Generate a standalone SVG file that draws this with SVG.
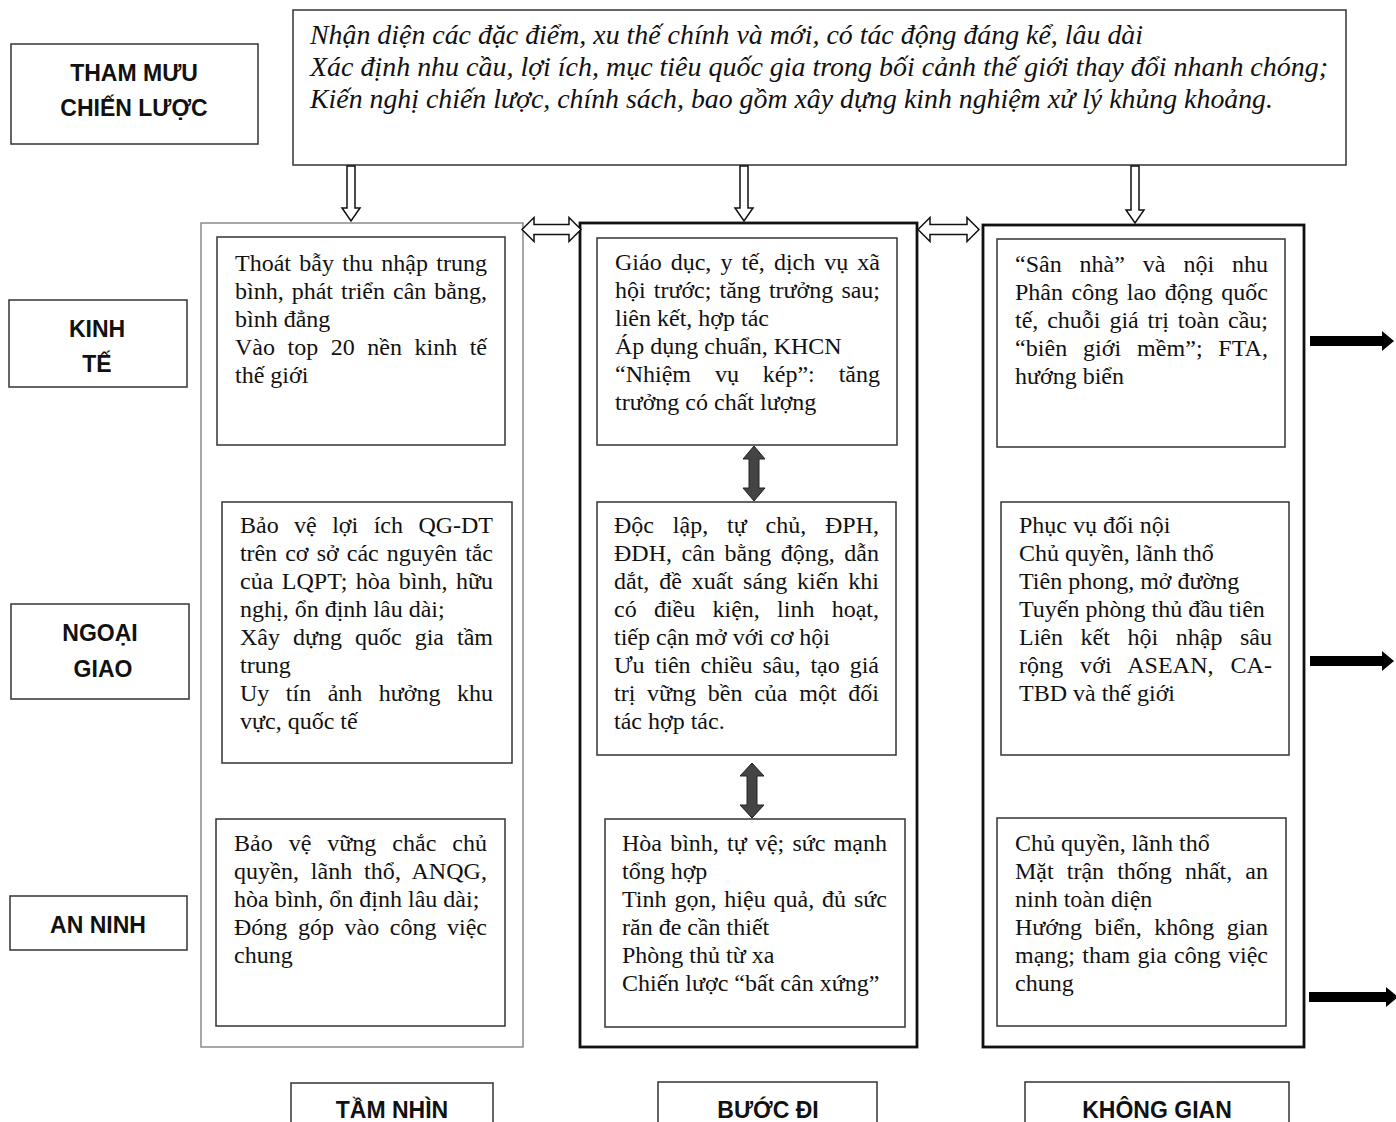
<svg xmlns="http://www.w3.org/2000/svg" width="1396" height="1122" viewBox="0 0 1396 1122">
<style>
.bg{fill:#fff}
.box{fill:#fff;stroke:#333;stroke-width:1.5}
.lbox{fill:#fff;stroke:#333;stroke-width:1.5}
.col1{fill:none;stroke:#8a8a8a;stroke-width:1.5}
.colb{fill:none;stroke:#111;stroke-width:2.8}
.t{font-family:"Liberation Serif","Times New Roman",serif;font-size:24px;fill:#111}
.ti{font-family:"Liberation Serif","Times New Roman",serif;font-size:28px;font-style:italic;fill:#111}
.lb{font-family:"Liberation Sans",Arial,sans-serif;font-size:23px;font-weight:bold;text-anchor:middle;fill:#111}
.hol{fill:#fff;stroke:#111;stroke-width:1.5;stroke-linejoin:miter}
.dk{fill:#444;stroke:#222;stroke-width:1}
.blk{fill:#000}
</style>
<rect class="bg" x="0" y="0" width="1396" height="1122"/>

<g id="top-box">
<rect class="box" x="293" y="10" width="1053" height="155"/>
<text class="ti" x="310" y="44" textLength="833" lengthAdjust="spacingAndGlyphs">Nhận diện các đặc điểm, xu thế chính và mới, có tác động đáng kể, lâu dài</text>
<text class="ti" x="310" y="76" textLength="1018" lengthAdjust="spacingAndGlyphs">Xác định nhu cầu, lợi ích, mục tiêu quốc gia trong bối cảnh thế giới thay đổi nhanh chóng;</text>
<text class="ti" x="310" y="108" textLength="963" lengthAdjust="spacingAndGlyphs">Kiến nghị chiến lược, chính sách, bao gồm xây dựng kinh nghiệm xử lý khủng khoảng.</text>
</g>

<g id="label-tham-muu">
<rect class="lbox" x="11" y="44" width="247" height="100"/>
<text class="lb" x="134" y="81">THAM MƯU</text>
<text class="lb" x="134" y="116">CHIẾN LƯỢC</text>
</g>
<g id="label-kinh-te">
<rect class="lbox" x="9" y="300" width="178" height="87"/>
<text class="lb" x="97" y="337">KINH</text>
<text class="lb" x="97" y="372">TẾ</text>
</g>
<g id="label-ngoai-giao">
<rect class="lbox" x="11" y="604" width="178" height="95"/>
<text class="lb" x="100" y="641">NGOẠI</text>
<text class="lb" x="103" y="677">GIAO</text>
</g>
<g id="label-an-ninh">
<rect class="lbox" x="10" y="896" width="177" height="54"/>
<text class="lb" x="98" y="933">AN NINH</text>
</g>

<g id="col-tam-nhin">
<rect class="col1" x="201" y="223" width="322" height="824"/>
</g>
<g id="col-buoc-di">
<rect class="colb" x="580" y="223" width="337" height="824"/>
</g>
<g id="col-khong-gian">
<rect class="colb" x="983" y="225" width="321" height="822"/>
</g>

<g id="c1-kinhte">
<rect class="box" x="217" y="237" width="288" height="208"/>
<text class="t" x="235" y="271" style="word-spacing:2.3px" textLength="252" lengthAdjust="spacing">Thoát bẫy thu nhập trung</text>
<text class="t" x="235" y="299" style="word-spacing:2px" textLength="252" lengthAdjust="spacing">bình, phát triển cân bằng,</text>
<text class="t" x="235" y="327">bình đẳng</text>
<text class="t" x="235" y="355" style="word-spacing:6.5px" textLength="252" lengthAdjust="spacing">Vào top 20 nền kinh tế</text>
<text class="t" x="235" y="383">thế giới</text>
</g>
<g id="c1-ngoaigiao">
<rect class="box" x="222" y="502" width="290" height="261"/>
<text class="t" x="240" y="533" style="word-spacing:9.5px" textLength="253" lengthAdjust="spacing">Bảo vệ lợi ích QG-DT</text>
<text class="t" x="240" y="561" style="word-spacing:2.3px" textLength="253" lengthAdjust="spacing">trên cơ sở các nguyên tắc</text>
<text class="t" x="240" y="589" style="word-spacing:2.2px" textLength="253" lengthAdjust="spacing">của LQPT; hòa bình, hữu</text>
<text class="t" x="240" y="617">nghị, ổn định lâu dài;</text>
<text class="t" x="240" y="645" style="word-spacing:7px" textLength="253" lengthAdjust="spacing">Xây dựng quốc gia tầm</text>
<text class="t" x="240" y="673">trung</text>
<text class="t" x="240" y="701" style="word-spacing:10.5px" textLength="253" lengthAdjust="spacing">Uy tín ảnh hưởng khu</text>
<text class="t" x="240" y="729">vực, quốc tế</text>
</g>
<g id="c1-anninh">
<rect class="box" x="216" y="819" width="289" height="207"/>
<text class="t" x="234" y="851" style="word-spacing:10px" textLength="253" lengthAdjust="spacing">Bảo vệ vững chắc chủ</text>
<text class="t" x="234" y="879" style="word-spacing:5.7px" textLength="253" lengthAdjust="spacing">quyền, lãnh thổ, ANQG,</text>
<text class="t" x="234" y="907">hòa bình, ổn định lâu dài;</text>
<text class="t" x="234" y="935" style="word-spacing:4.6px" textLength="253" lengthAdjust="spacing">Đóng góp vào công việc</text>
<text class="t" x="234" y="963">chung</text>
</g>

<g id="c2-kinhte">
<rect class="box" x="597" y="238" width="300" height="207"/>
<text class="t" x="615" y="270" style="word-spacing:3.1px" textLength="265" lengthAdjust="spacing">Giáo dục, y tế, dịch vụ xã</text>
<text class="t" x="615" y="298" style="word-spacing:2.2px" textLength="265" lengthAdjust="spacing">hội trước; tăng trưởng sau;</text>
<text class="t" x="615" y="326">liên kết, hợp tác</text>
<text class="t" x="615" y="354">Áp dụng chuẩn, KHCN</text>
<text class="t" x="615" y="382" style="word-spacing:17.9px" textLength="265" lengthAdjust="spacing">“Nhiệm vụ kép”: tăng</text>
<text class="t" x="615" y="410">trưởng có chất lượng</text>
</g>
<g id="c2-ngoaigiao">
<rect class="box" x="597" y="502" width="299" height="253"/>
<text class="t" x="614" y="533" style="word-spacing:12.8px" textLength="265" lengthAdjust="spacing">Độc lập, tự chủ, ĐPH,</text>
<text class="t" x="614" y="561" style="word-spacing:3.6px" textLength="265" lengthAdjust="spacing">ĐDH, cân bằng động, dẫn</text>
<text class="t" x="614" y="589" style="word-spacing:3.9px" textLength="265" lengthAdjust="spacing">dắt, đề xuất sáng kiến khi</text>
<text class="t" x="614" y="617" style="word-spacing:11.2px" textLength="265" lengthAdjust="spacing">có điều kiện, linh hoạt,</text>
<text class="t" x="614" y="645">tiếp cận mở với cơ hội</text>
<text class="t" x="614" y="673" style="word-spacing:4px" textLength="265" lengthAdjust="spacing">Ưu tiên chiều sâu, tạo giá</text>
<text class="t" x="614" y="701" style="word-spacing:5.7px" textLength="265" lengthAdjust="spacing">trị vững bền của một đối</text>
<text class="t" x="614" y="729">tác hợp tác.</text>
</g>
<g id="c2-anninh">
<rect class="box" x="605" y="819" width="300" height="208"/>
<text class="t" x="622" y="851" style="word-spacing:2.2px" textLength="265" lengthAdjust="spacing">Hòa bình, tự vệ; sức mạnh</text>
<text class="t" x="622" y="879">tổng hợp</text>
<text class="t" x="622" y="907" style="word-spacing:1.7px" textLength="265" lengthAdjust="spacing">Tinh gọn, hiệu quả, đủ sức</text>
<text class="t" x="622" y="935">răn đe cần thiết</text>
<text class="t" x="622" y="963">Phòng thủ từ xa</text>
<text class="t" x="622" y="991">Chiến lược “bất cân xứng”</text>
</g>

<g id="c3-kinhte">
<rect class="box" x="997" y="239" width="288" height="208"/>
<text class="t" x="1015" y="272" style="word-spacing:11.9px" textLength="253" lengthAdjust="spacing">“Sân nhà” và nội nhu</text>
<text class="t" x="1015" y="300" style="word-spacing:2.6px" textLength="253" lengthAdjust="spacing">Phân công lao động quốc</text>
<text class="t" x="1015" y="328" style="word-spacing:2.9px" textLength="253" lengthAdjust="spacing">tế, chuỗi giá trị toàn cầu;</text>
<text class="t" x="1015" y="356" style="word-spacing:9.5px" textLength="253" lengthAdjust="spacing">“biên giới mềm”; FTA,</text>
<text class="t" x="1015" y="384">hướng biển</text>
</g>
<g id="c3-ngoaigiao">
<rect class="box" x="1001" y="502" width="288" height="253"/>
<text class="t" x="1019" y="533">Phục vụ đối nội</text>
<text class="t" x="1019" y="561">Chủ quyền, lãnh thổ</text>
<text class="t" x="1019" y="589">Tiên phong, mở đường</text>
<text class="t" x="1019" y="617">Tuyến phòng thủ đầu tiên</text>
<text class="t" x="1019" y="645" style="word-spacing:11.6px" textLength="253" lengthAdjust="spacing">Liên kết hội nhập sâu</text>
<text class="t" x="1019" y="673" style="word-spacing:10.8px" textLength="253" lengthAdjust="spacing">rộng với ASEAN, CA-</text>
<text class="t" x="1019" y="701">TBD và thế giới</text>
</g>
<g id="c3-anninh">
<rect class="box" x="997" y="818" width="289" height="208"/>
<text class="t" x="1015" y="851">Chủ quyền, lãnh thổ</text>
<text class="t" x="1015" y="879" style="word-spacing:7.1px" textLength="253" lengthAdjust="spacing">Mặt trận thống nhất, an</text>
<text class="t" x="1015" y="907">ninh toàn diện</text>
<text class="t" x="1015" y="935" style="word-spacing:6.5px" textLength="253" lengthAdjust="spacing">Hướng biển, không gian</text>
<text class="t" x="1015" y="963" style="word-spacing:1.2px" textLength="253" lengthAdjust="spacing">mạng; tham gia công việc</text>
<text class="t" x="1015" y="991">chung</text>
</g>

<g id="label-tam-nhin">
<rect class="lbox" x="291" y="1083" width="202" height="60"/>
<text class="lb" x="392" y="1118">TẦM NHÌN</text>
</g>
<g id="label-buoc-di">
<rect class="lbox" x="658" y="1082" width="219" height="60"/>
<text class="lb" x="768" y="1118">BƯỚC ĐI</text>
</g>
<g id="label-khong-gian">
<rect class="lbox" x="1025" y="1082" width="264" height="60"/>
<text class="lb" x="1157" y="1118">KHÔNG GIAN</text>
</g>

<g id="connectors">
<path class="hol" d="M347,166 L355,166 L355,208 L360,208 L351,221 L342,208 L347,208 Z"/>
<path class="hol" d="M740,166 L748,166 L748,208 L753,208 L744,221 L735,208 L740,208 Z"/>
<path class="hol" d="M1131,166 L1139,166 L1139,210 L1144,210 L1135,223 L1126,210 L1131,210 Z"/>
<path class="hol" d="M522,229.5 L534,217.5 L534,224.5 L569,224.5 L569,217.5 L581,229.5 L569,241.5 L569,234.5 L534,234.5 L534,241.5 Z"/>
<path class="hol" d="M918,229.5 L930,217.5 L930,224.5 L967,224.5 L967,217.5 L979,229.5 L967,241.5 L967,234.5 L930,234.5 L930,241.5 Z"/>
<path class="dk" d="M754,446 L765,459 L759,459 L759,488 L765,488 L754,501 L743,488 L749,488 L749,459 L743,459 Z"/>
<path class="dk" d="M752,763 L764,776 L757,776 L757,805 L764,805 L752,818 L740,805 L747,805 L747,776 L740,776 Z"/>
<path class="blk" d="M1310,336 L1382,336 L1382,331 L1394,341 L1382,351 L1382,346 L1310,346 Z"/>
<path class="blk" d="M1310,656 L1382,656 L1382,651 L1394,661 L1382,671 L1382,666 L1310,666 Z"/>
<path class="blk" d="M1309,992 L1386,992 L1386,987 L1398,997 L1386,1007 L1386,1002 L1309,1002 Z"/>
</g>
</svg>
